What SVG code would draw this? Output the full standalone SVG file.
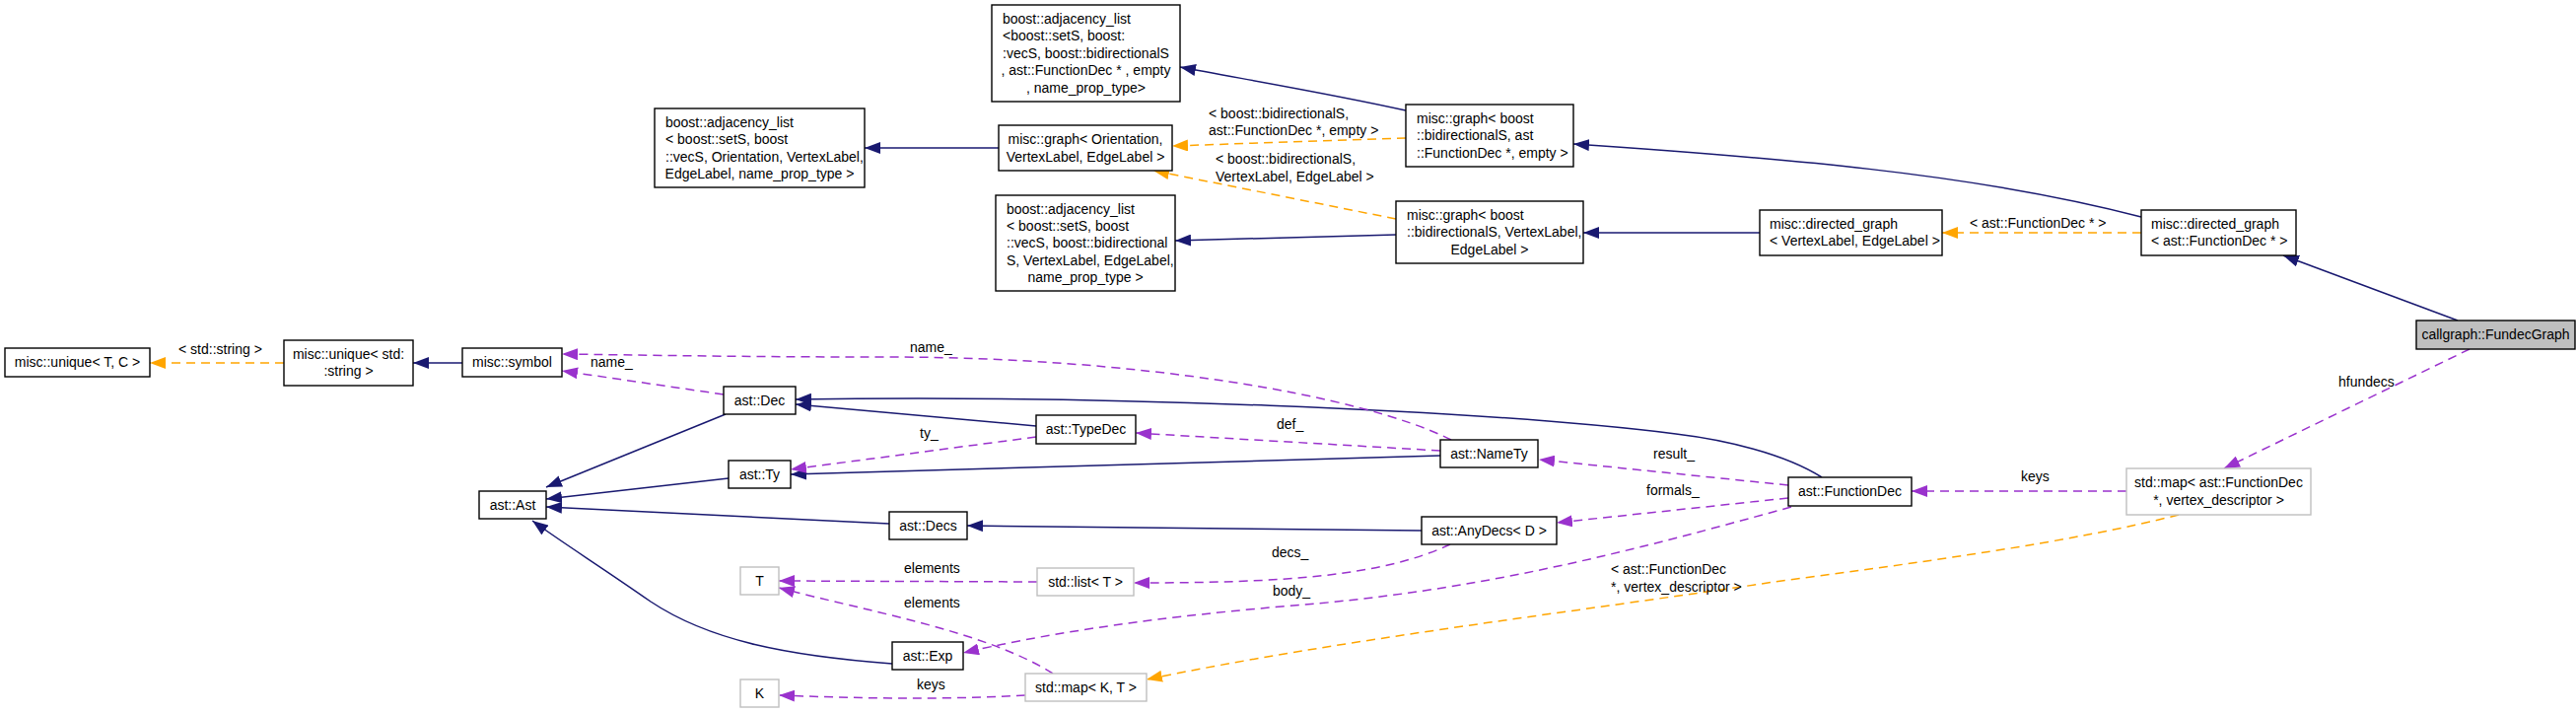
<svg xmlns="http://www.w3.org/2000/svg" width="2613" height="724" viewBox="0 0 2613 724">
<style>
text{font-family:"Liberation Sans",Arial,sans-serif;font-size:14px;fill:#000}
.n rect{fill:#fff;stroke:#000;stroke-width:1.4}
.g rect{fill:#fff;stroke:#bfbfbf;stroke-width:1.4}
.c{text-anchor:middle}
.inh{fill:none;stroke:#191970;stroke-width:1.5}
.use{fill:none;stroke:#9a32cd;stroke-width:1.5;stroke-dasharray:9,6}
.tpl{fill:none;stroke:#ffa500;stroke-width:1.5;stroke-dasharray:9,6}
</style>
<defs>
<marker id="an" markerWidth="16" markerHeight="12" refX="16" refY="6" orient="auto" markerUnits="userSpaceOnUse"><path d="M0,0 L16,6 L0,12 z" fill="#191970"/></marker>
<marker id="ap" markerWidth="16" markerHeight="12" refX="16" refY="6" orient="auto" markerUnits="userSpaceOnUse"><path d="M0,0 L16,6 L0,12 z" fill="#9a32cd"/></marker>
<marker id="ao" markerWidth="16" markerHeight="12" refX="16" refY="6" orient="auto" markerUnits="userSpaceOnUse"><path d="M0,0 L16,6 L0,12 z" fill="#ffa500"/></marker>
</defs>
<rect width="2613" height="724" fill="#fff"/>
<g id="edges">
<path class="inh" marker-end="url(#an)" d="M1426,112 C1350,95 1260,80 1197,68"/>
<path class="inh" marker-end="url(#an)" d="M1013,150 L877,150"/>
<path class="inh" marker-end="url(#an)" d="M1416,238 L1192,244"/>
<path class="inh" marker-end="url(#an)" d="M2172,220 C2000,175 1800,160 1596,146"/>
<path class="inh" marker-end="url(#an)" d="M1785,236 L1606,236"/>
<path class="inh" marker-end="url(#an)" d="M2493,325 L2316,259"/>
<path class="inh" marker-end="url(#an)" d="M736,420 L554,494"/>
<path class="inh" marker-end="url(#an)" d="M739,485 L554,506"/>
<path class="inh" marker-end="url(#an)" d="M902,531 L554,514"/>
<path class="inh" marker-end="url(#an)" d="M905,673 C800,665 720,650 660,610 C610,575 570,550 540,528"/>
<path class="inh" marker-end="url(#an)" d="M1051,432 L807,410"/>
<path class="inh" marker-end="url(#an)" d="M1848,484 C1810,460 1750,446 1700,440 C1500,415 1100,400 807,405"/>
<path class="inh" marker-end="url(#an)" d="M1461,462 L802,481"/>
<path class="inh" marker-end="url(#an)" d="M1442,538 L981,533"/>
<path class="inh" marker-end="url(#an)" d="M469,368 L419,368"/>

<path class="use" marker-end="url(#ap)" d="M1472,446 C1380,400 1150,362 900,362 C750,362 650,360 570,359"/>
<text x="923" y="357">name_</text>
<path class="use" marker-end="url(#ap)" d="M734,400 L570,376"/>
<text x="599" y="372">name_</text>
<path class="use" marker-end="url(#ap)" d="M1461,457 L1152,439"/>
<text x="1295" y="435">def_</text>
<path class="use" marker-end="url(#ap)" d="M1051,443 L802,476"/>
<text x="933" y="444">ty_</text>
<path class="use" marker-end="url(#ap)" d="M1814,492 L1561,466"/>
<text x="1677" y="465">result_</text>
<path class="use" marker-end="url(#ap)" d="M1814,505 L1579,530"/>
<text x="1670" y="502">formals_</text>
<path class="use" marker-end="url(#ap)" d="M1471,552 C1400,585 1300,591 1150,591"/>
<text x="1290" y="565">decs_</text>
<path class="use" marker-end="url(#ap)" d="M1052,590 L790,589"/>
<text x="917" y="581">elements</text>
<path class="use" marker-end="url(#ap)" d="M1068,683 C1000,640 880,620 790,596"/>
<text x="917" y="616">elements</text>
<path class="use" marker-end="url(#ap)" d="M1817,514 C1650,560 1500,600 1300,615 C1150,628 1050,645 977,662"/>
<text x="1291" y="604">body_</text>
<path class="use" marker-end="url(#ap)" d="M1040,705 C950,710 870,708 790,705"/>
<text x="930" y="699">keys</text>
<path class="use" marker-end="url(#ap)" d="M2157,498 L1939,498"/>
<text x="2050" y="488">keys</text>
<path class="use" marker-end="url(#ap)" d="M2505,354 L2256,475"/>
<text x="2372" y="392">hfundecs</text>

<path class="tpl" marker-end="url(#ao)" d="M288,368 L152,368"/>
<text x="181" y="359">&lt; std::string &gt;</text>
<path class="tpl" marker-end="url(#ao)" d="M1426,140 L1189,148"/>
<text x="1226" y="120">&lt; boost::bidirectionalS,</text>
<text x="1226" y="137">ast::FunctionDec *, empty &gt;</text>
<path class="tpl" marker-end="url(#ao)" d="M1416,222 L1170,173"/>
<text x="1233" y="166">&lt; boost::bidirectionalS,</text>
<text x="1233" y="184">VertexLabel, EdgeLabel &gt;</text>
<path class="tpl" marker-end="url(#ao)" d="M2172,236 L1970,236"/>
<text x="1998" y="231">&lt; ast::FunctionDec * &gt;</text>
<path class="tpl" marker-end="url(#ao)" d="M2210,522 C2100,550 1950,570 1800,590 C1600,620 1350,650 1163,689"/>
<text x="1634" y="582">&lt; ast::FunctionDec</text>
<text x="1634" y="600">*, vertex_descriptor &gt;</text>
</g>

<g id="unique_tc" class="n"><rect x="5" y="353" width="147" height="29"/><text class="c" x="78.5" y="372">misc::unique&lt; T, C &gt;</text></g>
<g id="unique_string" class="n"><rect x="288" y="345" width="131" height="46"/><text class="c" x="353.5" y="364">misc::unique&lt; std:</text><text class="c" x="353.5" y="381">:string &gt;</text></g>
<g id="symbol" class="n"><rect x="469" y="353" width="101" height="29"/><text class="c" x="519.5" y="372">misc::symbol</text></g>
<g id="ast_Ast" class="n"><rect x="486" y="498" width="68" height="28"/><text class="c" x="520" y="517">ast::Ast</text></g>
<g id="ast_Dec" class="n"><rect x="734" y="392" width="73" height="28"/><text class="c" x="770.5" y="411">ast::Dec</text></g>
<g id="ast_Ty" class="n"><rect x="739" y="467" width="63" height="28"/><text class="c" x="770.5" y="486">ast::Ty</text></g>
<g id="ast_TypeDec" class="n"><rect x="1051" y="421" width="101" height="29"/><text class="c" x="1101.5" y="440">ast::TypeDec</text></g>
<g id="ast_NameTy" class="n"><rect x="1461" y="446" width="99" height="28"/><text class="c" x="1510.5" y="465">ast::NameTy</text></g>
<g id="ast_Decs" class="n"><rect x="902" y="519" width="79" height="28"/><text class="c" x="941.5" y="538">ast::Decs</text></g>
<g id="ast_AnyDecs" class="n"><rect x="1442" y="524" width="137" height="28"/><text class="c" x="1510.5" y="543">ast::AnyDecs&lt; D &gt;</text></g>
<g id="ast_FunctionDec" class="n"><rect x="1814" y="484" width="125" height="29"/><text class="c" x="1876.5" y="503">ast::FunctionDec</text></g>
<g id="T" class="g"><rect x="751" y="575" width="39" height="28"/><text class="c" x="770.5" y="594">T</text></g>
<g id="std_list" class="g"><rect x="1052" y="576" width="98" height="28"/><text class="c" x="1101" y="595">std::list&lt; T &gt;</text></g>
<g id="ast_Exp" class="n"><rect x="905" y="651" width="72" height="28"/><text class="c" x="941" y="670">ast::Exp</text></g>
<g id="std_map_KT" class="g"><rect x="1040" y="683" width="123" height="28"/><text class="c" x="1101.5" y="702">std::map&lt; K, T &gt;</text></g>
<g id="K" class="g"><rect x="751" y="689" width="39" height="28"/><text class="c" x="770.5" y="708">K</text></g>
<g id="std_map_fd" class="g"><rect x="2157" y="475" width="187" height="47"/><text class="c" x="2250.5" y="494">std::map&lt; ast::FunctionDec</text><text class="c" x="2250.5" y="512">*, vertex_descriptor &gt;</text></g>
<g id="FundecGraph"><rect x="2451" y="325" width="161" height="29" fill="#bfbfbf" stroke="#000" stroke-width="1.4"/><text class="c" x="2531.5" y="344">callgraph::FundecGraph</text></g>
<g id="directed_graph_fd" class="n"><rect x="2172" y="213" width="157" height="46"/><text x="2182" y="232">misc::directed_graph</text><text x="2182" y="249">&lt; ast::FunctionDec * &gt;</text></g>
<g id="directed_graph_vl" class="n"><rect x="1785" y="213" width="185" height="46"/><text x="1795" y="232">misc::directed_graph</text><text x="1795" y="249">&lt; VertexLabel, EdgeLabel &gt;</text></g>
<g id="graph_bidir_vl" class="n"><rect x="1416" y="204" width="190" height="63"/><text x="1427" y="223">misc::graph&lt; boost</text><text x="1427" y="240">::bidirectionalS, VertexLabel,</text><text class="c" x="1511" y="258">EdgeLabel &gt;</text></g>
<g id="graph_bidir_fd" class="n"><rect x="1426" y="106" width="170" height="63"/><text x="1437" y="125">misc::graph&lt; boost</text><text x="1437" y="142">::bidirectionalS, ast</text><text x="1437" y="160">::FunctionDec *, empty &gt;</text></g>
<g id="adj_fd" class="n"><rect x="1006" y="5" width="191" height="98"/><text x="1017" y="24">boost::adjacency_list</text><text x="1017" y="41">&lt;boost::setS, boost:</text><text x="1017" y="59">:vecS, boost::bidirectionalS</text><text class="c" x="1101.5" y="76">, ast::FunctionDec * , empty</text><text class="c" x="1101.5" y="94">, name_prop_type&gt;</text></g>
<g id="graph_orientation" class="n"><rect x="1013" y="127" width="176" height="46"/><text class="c" x="1101" y="146">misc::graph&lt; Orientation,</text><text class="c" x="1101" y="164">VertexLabel, EdgeLabel &gt;</text></g>
<g id="adj_vl" class="n"><rect x="1010" y="198" width="182" height="97"/><text x="1021" y="217">boost::adjacency_list</text><text x="1021" y="234">&lt; boost::setS, boost</text><text x="1021" y="251">::vecS, boost::bidirectional</text><text x="1021" y="269">S, VertexLabel, EdgeLabel,</text><text class="c" x="1101" y="286">name_prop_type &gt;</text></g>
<g id="adj_orientation" class="n"><rect x="664" y="110" width="213" height="80"/><text x="675" y="129">boost::adjacency_list</text><text x="675" y="146">&lt; boost::setS, boost</text><text x="675" y="164">::vecS, Orientation, VertexLabel,</text><text class="c" x="770.5" y="181">EdgeLabel, name_prop_type &gt;</text></g>
</svg>
